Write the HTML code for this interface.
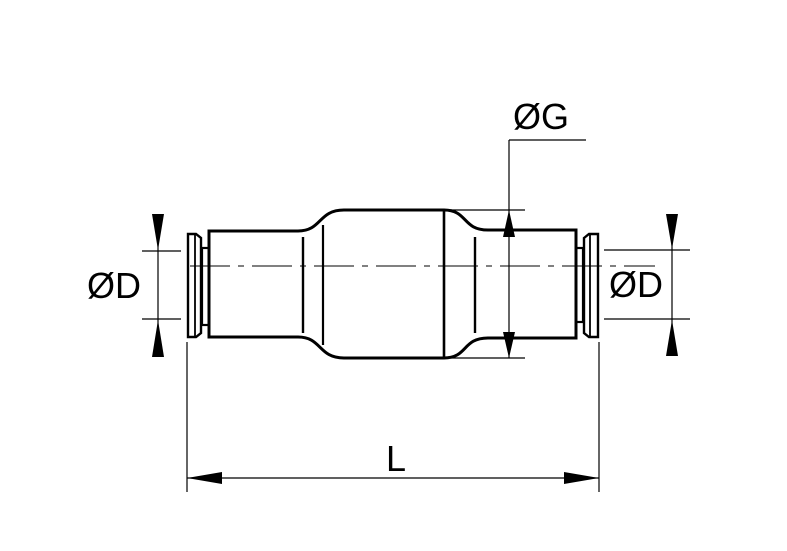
<!DOCTYPE html>
<html><head><style>html,body{margin:0;padding:0;background:#fff}svg{display:block}</style></head><body>
<svg width="787" height="551" viewBox="0 0 787 551" xmlns="http://www.w3.org/2000/svg">
<g fill="none" stroke="#000">
<line x1="190" y1="266" x2="655" y2="266" stroke-width="1" stroke-dasharray="40,8,6,8"/>
<path d="M209,231 L298,231 C322,231 318,210 344,210 L444,210 C468,210 462,230 488,230 L576,230 L576,338 L488,338 C462,338 468,358 444,358 L344,358 C318,358 322,337 298,337 L209,337 Z" stroke-width="3"/>
<line x1="444" y1="211" x2="444" y2="357" stroke-width="2.6"/>
<line x1="303" y1="237" x2="303" y2="333" stroke-width="2.4"/>
<line x1="323" y1="225" x2="323" y2="345" stroke-width="2.2"/>
<line x1="475" y1="237" x2="475" y2="333" stroke-width="2.4"/>
<rect x="202" y="248" width="7" height="77" stroke-width="2.2"/>
<path d="M188,234 L196,234 L201,238 L201,333 L196,337 L188,337 Z" stroke-width="2.4"/>
<line x1="195" y1="235" x2="195" y2="336" stroke-width="1.8"/>
<rect x="576" y="248" width="7" height="74" stroke-width="2.2"/>
<path d="M584,238 L589,234 L598,234 L598,337 L589,337 L584,333 Z" stroke-width="2.4"/>
<line x1="590" y1="235" x2="590" y2="336" stroke-width="1.8"/>
<g stroke-width="1.2">
<line x1="142" y1="251" x2="181" y2="251"/><line x1="142" y1="319" x2="181" y2="319"/>
<line x1="158" y1="214" x2="158" y2="357"/>
<line x1="604" y1="250" x2="690" y2="250"/><line x1="604" y1="319" x2="690" y2="319"/>
<line x1="672" y1="214" x2="672" y2="356"/>
<line x1="444" y1="210" x2="525" y2="210"/><line x1="444" y1="358" x2="525" y2="358"/>
<line x1="509" y1="140" x2="509" y2="358"/><line x1="509" y1="140" x2="586" y2="140"/>
<line x1="187" y1="342" x2="187" y2="492"/><line x1="599" y1="342" x2="599" y2="492"/>
<line x1="187" y1="478" x2="599" y2="478"/>
</g>
</g>
<g fill="#000">
<polygon points="152,214 164,214 158,250"/><polygon points="152,357 164,357 158,320"/>
<polygon points="666,214 678,214 672,249"/><polygon points="666,356 678,356 672,320"/>
<polygon points="503,237 515,237 509,210"/><polygon points="503,332 515,332 509,358"/>
<polygon points="187,478 222,472 222,484"/><polygon points="599,478 564,472 564,484"/>
</g>
<g font-family="Liberation Sans, sans-serif" font-size="36" fill="#000">
<text x="87" y="298">ØD</text>
<text x="609" y="297">ØD</text>
<text x="513" y="129">ØG</text>
<text x="386" y="471">L</text>
</g>
</svg>
</body></html>
